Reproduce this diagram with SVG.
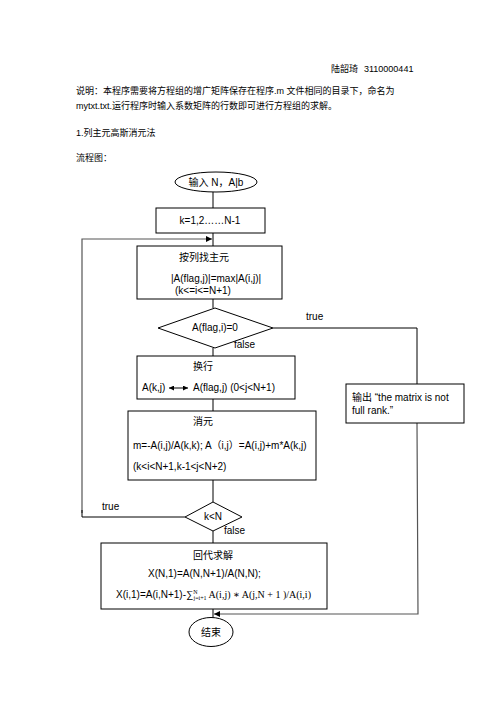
<svg xmlns="http://www.w3.org/2000/svg" width="496" height="702" viewBox="0 0 496 702">
<style>
text{font-family:"Liberation Sans","Noto Sans CJK SC",sans-serif;font-size:10px;fill:#000}
.hd{font-size:9px}
.box{fill:#fff;stroke:#000;stroke-width:1}
.ln{fill:none;stroke:#000;stroke-width:1}
.gl{fill:none;stroke:#555;stroke-width:1.2}
.m{font-family:"Liberation Serif","DejaVu Serif",serif;font-size:10px}
.s{font-family:"Liberation Serif","DejaVu Serif",serif;font-size:6px}
</style>
<defs>
<marker id="ah" viewBox="0 0 10 10" refX="10" refY="5" markerWidth="5" markerHeight="5" orient="auto-start-reverse"><path d="M0,0 L10,5 L0,10 z" fill="#000"/></marker>
</defs>
<rect width="496" height="702" fill="#fff"/>
<g id="header">
<text class="hd" x="331" y="72">陆韶琦</text>
<text class="hd" x="364" y="72">3110000441</text>
<text class="hd" x="76" y="94">说明：本程序需要将方程组的增广矩阵保存在程序.m 文件相同的目录下，命名为</text>
<text class="hd" x="76" y="109">mytxt.txt.运行程序时输入系数矩阵的行数即可进行方程组的求解。</text>
<text class="hd" x="76" y="136">1.列主元高斯消元法</text>
<text class="hd" x="76" y="161">流程图：</text>
</g>
<g id="connectors">
<line class="ln" x1="213" y1="192" x2="213" y2="208"/>
<line class="ln" x1="213" y1="233" x2="213" y2="246"/>
<polyline class="gl" points="82,513 82,239 212,239" marker-end="url(#ah)"/>
<line class="ln" x1="213" y1="299" x2="213" y2="308"/>
<line class="ln" x1="213" y1="348" x2="213" y2="356"/>
<line class="ln" x1="213" y1="399" x2="213" y2="411"/>
<line class="ln" x1="213" y1="480" x2="213" y2="502"/>
<line class="ln" x1="213" y1="531" x2="213" y2="543"/>
<line class="ln" x1="213" y1="609" x2="213" y2="618"/>
<polyline class="ln" points="273,328 417,328 417,384"/>
<polyline class="gl" points="417,423 418,614 214,614" marker-end="url(#ah)"/>
<polyline class="ln" points="185,517 82,517 82,510"/>
<text x="306" y="320">true</text>
<text x="234" y="348">false</text>
<text x="102" y="510">true</text>
<text x="224" y="534">false</text>
</g>
<g id="start">
<ellipse class="box" cx="216" cy="182" rx="41" ry="10"/>
<text x="216" y="186" text-anchor="middle">输入 N，A|b</text>
</g>
<g id="loop">
<rect class="box" x="156" y="208" width="109" height="25"/>
<text x="210" y="224" text-anchor="middle">k=1,2……N-1</text>
</g>
<g id="pivot">
<rect class="box" x="137" y="246" width="145" height="53"/>
<text x="179" y="261">按列找主元</text>
<text x="171" y="282">|A(flag,j)|=max|A(i,j)|</text>
<text x="175" y="294">(k&lt;=i&lt;=N+1)</text>
</g>
<g id="check">
<polygon class="box" points="215,308 273,328 215,348 158,328"/>
<text x="215" y="331" text-anchor="middle">A(flag,i)=0</text>
</g>
<g id="swap">
<rect class="box" x="137" y="356" width="158" height="43"/>
<text x="193" y="370">换行</text>
<text x="142" y="391">A(k,j)</text>
<line class="ln" x1="169" y1="388" x2="188" y2="388" marker-start="url(#ah)" marker-end="url(#ah)"/>
<text x="193" y="391">A(flag,j) (0&lt;j&lt;N+1)</text>
</g>
<g id="elim">
<rect class="box" x="128" y="411" width="188" height="69"/>
<text x="193" y="425">消元</text>
<text x="133" y="449">m=-A(i,j)/A(k,k); A（i,j）=A(i,j)+m*A(k,j)</text>
<text x="133" y="470">(k&lt;i&lt;N+1,k-1&lt;j&lt;N+2)</text>
</g>
<g id="kcheck">
<polygon class="box" points="213,502 242,517 213,531 185,517"/>
<text x="213" y="520" text-anchor="middle">k&lt;N</text>
</g>
<g id="output">
<rect class="box" x="346" y="384" width="118" height="39"/>
<text x="352" y="401">输出 “the matrix is not</text>
<text x="352" y="414">full rank.”</text>
</g>
<g id="back">
<rect class="box" x="101" y="543" width="226" height="66"/>
<text x="213" y="559" text-anchor="middle">回代求解</text>
<text x="148" y="577">X(N,1)=A(N,N+1)/A(N,N);</text>
<text x="116" y="598">X(i,1)=A(i,N+1)-∑<tspan class="s" dy="-4">N</tspan><tspan class="s" dx="-4" dy="6">j=i+1</tspan><tspan class="m" dy="-2"> A(i,j) ∗ A(j,N + 1 )/A(i,i)</tspan></text>
</g>
<g id="end">
<ellipse class="box" cx="211" cy="632" rx="22" ry="14.5"/>
<text x="211" y="636" text-anchor="middle">结束</text>
</g>
</svg>
